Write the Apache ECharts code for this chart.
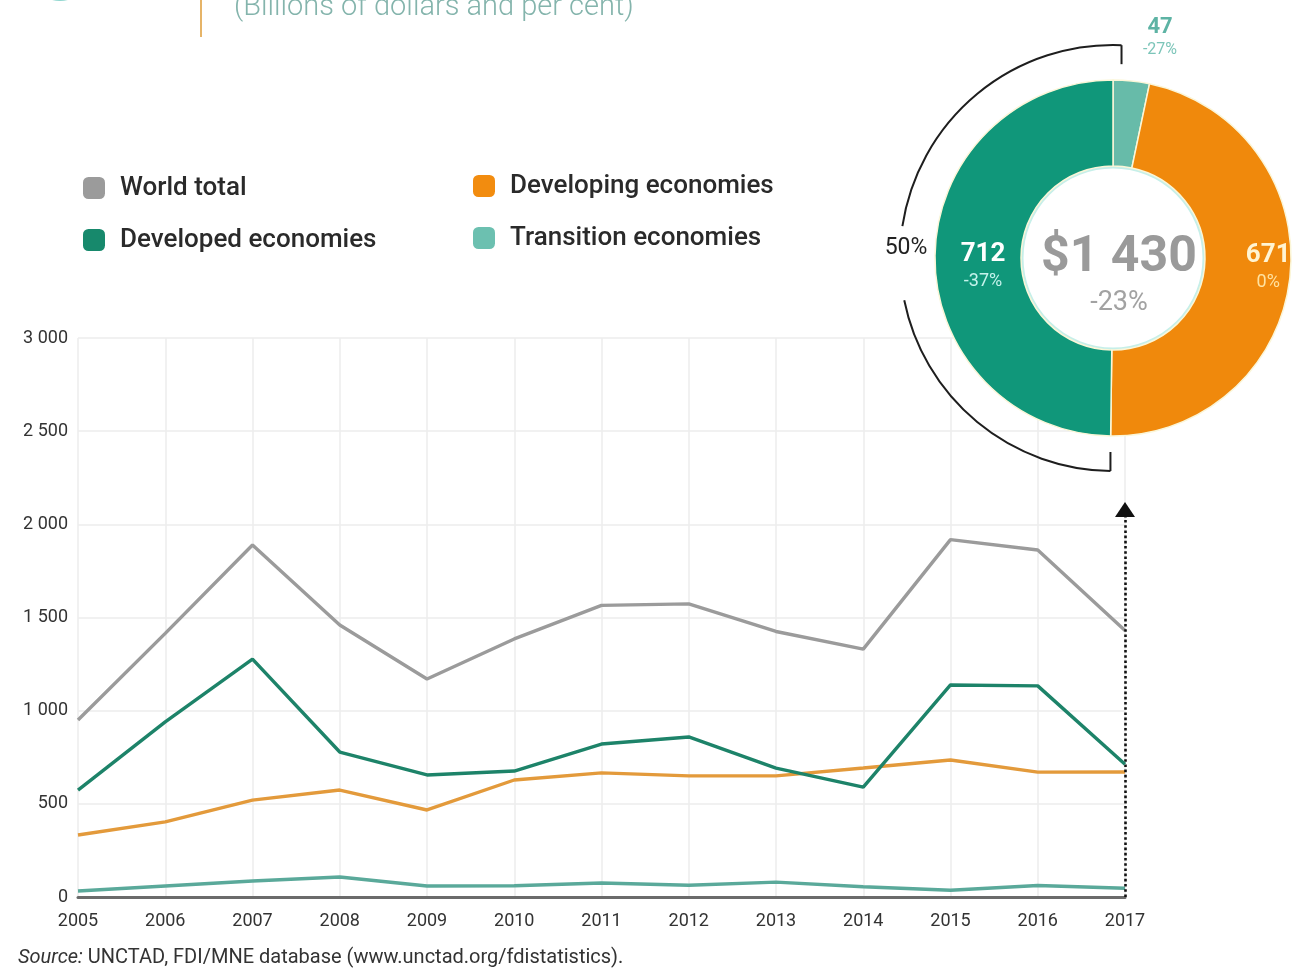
<!DOCTYPE html>
<html>
<head>
<meta charset="utf-8">
<title>FDI inflows, 2005-2017</title>
<script src="https://cdn.jsdelivr.net/npm/echarts@6/dist/echarts.min.js"></script>
<style>
  html, body { margin: 0; padding: 0; background: #ffffff; }
  #chart { width: 1306px; height: 975px; }
</style>
</head>
<body>
<div id="chart"></div>
<script>
// FDI inflows by group of economies (billions of dollars)
const years = ['2005', '2006', '2007', '2008', '2009', '2010', '2011', '2012', '2013', '2014', '2015', '2016', '2017'];
const worldTotal = [950, 1415, 1889, 1460, 1170, 1385, 1565, 1573, 1425, 1330, 1918, 1862, 1430];
const developed  = [574, 940, 1277, 778, 655, 676, 821, 859, 692, 590, 1138, 1133, 712];
const developing = [333, 403, 520, 574, 467, 628, 666, 650, 650, 692, 735, 670, 671];
const transition = [32, 59, 86, 107, 59, 60, 75, 63, 80, 55, 36, 62, 47];
const yTicks = [0, 500, 1000, 1500, 2000, 2500, 3000];

// 2017 breakdown and growth rates
const shareNames   = ['Transition economies', 'Developing economies', 'Developed economies'];
const shareChange  = ['-27%', '0%', '-37%'];
const totalChange  = '-23%';

const last = years.length - 1;
const shareValues = [transition[last], developing[last], developed[last]];
const total2017 = worldTotal[last];

const C = {
  world: '#9b9b9b',
  developedLine: '#1d8369',
  developingLine: '#e39a3b',
  transitionLine: '#5aa99a',
  developedPie: '#10977a',
  developingPie: '#f0890c',
  transitionPie: '#67bba9',
  legendDeveloped: '#17896c',
  legendDeveloping: '#f28c0f',
  legendTransition: '#6cc0b0',
  grid: '#ededed',
  text: '#333333'
};

const FONT = 'Roboto, "Liberation Sans", sans-serif';
const PIE_CX = 1113, PIE_CY = 258, PIE_R0 = 92, PIE_R = 178;
const BRACKET_R = 213;

const spaced = v => String(v).replace(/\B(?=(\d{3})+(?!\d))/g, ' ');

const chart = echarts.init(document.getElementById('chart'), null, { renderer: 'canvas' });

const lineSeries = (name, data, color, z) => ({
  name, type: 'line', data, z,
  symbol: 'none',
  lineStyle: { color, width: 3.4 },
  itemStyle: { color },
  emphasis: { disabled: true }
});

const developedShare = Math.round(100 * shareValues[2] / total2017) + '%';

// bracket around the developed-economies half of the ring
const topA = -Math.PI / 2 + 0.04;
const botA = Math.PI / 2 + 0.012;
const gapA = 0.15;

const legendText = { fontSize: 26, fontWeight: 500, color: '#2a2a2a', fontFamily: FONT, padding: [0, 0, 0, 10] };

const option = {
  animation: false,
  backgroundColor: '#ffffff',
  textStyle: { fontFamily: FONT },
  grid: { left: 78, right: 181, top: 338, bottom: 78, containLabel: false },
  legend: [
    {
      left: 78, top: 170, orient: 'vertical', itemGap: 26,
      icon: 'roundRect', itemWidth: 22, itemHeight: 22, itemStyle: { borderWidth: 0 },
      textStyle: legendText,
      selectedMode: false,
      data: [
        { name: 'World total', itemStyle: { color: C.world } },
        { name: 'Developed economies', itemStyle: { color: C.legendDeveloped } }
      ]
    },
    {
      left: 468, top: 168, orient: 'vertical', itemGap: 26,
      icon: 'roundRect', itemWidth: 22, itemHeight: 22, itemStyle: { borderWidth: 0 },
      textStyle: legendText,
      selectedMode: false,
      data: [
        { name: 'Developing economies', itemStyle: { color: C.legendDeveloping } },
        { name: 'Transition economies', itemStyle: { color: C.legendTransition } }
      ]
    }
  ],
  xAxis: {
    type: 'category',
    data: years,
    boundaryGap: false,
    axisLine: { lineStyle: { color: '#6b6b6b', width: 3 } },
    axisTick: { show: false },
    axisLabel: { fontSize: 18, color: C.text, margin: 15, fontFamily: FONT },
    splitLine: { show: true, lineStyle: { color: C.grid, width: 1.5 } }
  },
  yAxis: {
    type: 'value',
    min: yTicks[0],
    max: yTicks[yTicks.length - 1],
    interval: yTicks[1] - yTicks[0],
    axisLine: { show: false },
    axisTick: { show: false },
    axisLabel: { fontSize: 18, color: C.text, margin: 10, fontFamily: FONT, formatter: v => spaced(v) },
    splitLine: { lineStyle: { color: C.grid, width: 1.5 } }
  },
  series: [
    Object.assign(lineSeries('World total', worldTotal, C.world, 3), {
      markLine: {
        silent: true,
        symbol: ['none', 'triangle'],
        symbolSize: [20, 15],
        label: { show: false },
        lineStyle: { type: 'dotted', color: '#111111', width: 2.6 },
        data: [[{ coord: [years[last], 0] }, { coord: [years[last], 2080] }]]
      }
    }),
    lineSeries('Developing economies', developing, C.developingLine, 4),
    lineSeries('Transition economies', transition, C.transitionLine, 4),
    lineSeries('Developed economies', developed, C.developedLine, 5),
    {
      // white centre of the ring
      type: 'pie',
      silent: true,
      z: 6,
      center: [PIE_CX, PIE_CY],
      radius: [0, PIE_R0 - 1],
      data: [{ value: total2017, name: 'total' }],
      itemStyle: { color: '#ffffff', borderColor: '#c6efe9', borderWidth: 3 },
      labelLine: { show: false },
      label: {
        show: true,
        position: 'center',
        padding: [36, 0, 0, 12],
        formatter: () => `{a|$${spaced(total2017)}}\n{b|${totalChange}}`,
        rich: {
          a: { fontSize: 50, fontWeight: 'bold', color: '#9a9a9a', lineHeight: 54, fontFamily: FONT },
          b: { fontSize: 27, color: '#a2a2a2', lineHeight: 36, fontFamily: FONT }
        }
      },
      emphasis: { disabled: true },
      tooltip: { show: false }
    },
    {
      type: 'pie',
      z: 7,
      silent: true,
      center: [PIE_CX, PIE_CY],
      radius: [PIE_R0, PIE_R],
      startAngle: 90,
      clockwise: true,
      avoidLabelOverlap: false,
      itemStyle: { borderColor: '#fbf6d8', borderWidth: 1.5 },
      labelLine: { show: false },
      emphasis: { disabled: true },
      data: [
        {
          name: shareNames[0], value: shareValues[0], itemStyle: { color: C.transitionPie },
          label: {
            show: true, position: 'inside',
            formatter: p => `{v|${p.value}}\n{p|${shareChange[p.dataIndex]}}`,
            rich: {
              v: { fontSize: 22, fontWeight: 'bold', color: '#5db3a4', lineHeight: 26, align: 'center', fontFamily: FONT },
              p: { fontSize: 16, color: '#7cc5b9', lineHeight: 20, align: 'center', fontFamily: FONT }
            }
          }
        },
        {
          name: shareNames[1], value: shareValues[1], itemStyle: { color: C.developingPie },
          label: {
            show: true, position: 'inside',
            formatter: p => `{v|${p.value}}\n{p|${shareChange[p.dataIndex]}}`,
            rich: {
              v: { fontSize: 26, fontWeight: 'bold', color: '#fff4d2', lineHeight: 30, align: 'center', fontFamily: FONT },
              p: { fontSize: 18, color: '#ffe2a0', lineHeight: 24, align: 'center', fontFamily: FONT }
            }
          }
        },
        {
          name: shareNames[2], value: shareValues[2], itemStyle: { color: C.developedPie },
          label: {
            show: true, position: 'inside',
            formatter: p => `{v|${p.value}}\n{p|${shareChange[p.dataIndex]}}`,
            rich: {
              v: { fontSize: 26, fontWeight: 'bold', color: '#ffffff', lineHeight: 30, align: 'center', fontFamily: FONT },
              p: { fontSize: 18, color: '#c6f3ec', lineHeight: 24, align: 'center', fontFamily: FONT }
            }
          }
        }
      ],
      labelLayout: params => {
        if (params.dataIndex === 0) return { x: PIE_CX + 47, y: 37, align: 'center', verticalAlign: 'middle' };
        if (params.dataIndex === 1) return { dx: 18, dy: -6 };
        return { dx: 8, dy: 9 };
      }
    }
  ],
  graphic: [
    // header fragments along the top edge
    { type: 'circle', shape: { cx: 60, cy: -30, r: 31 }, style: { fill: '#8fd6cf' }, silent: true },
    { type: 'line', shape: { x1: 201, y1: 0, x2: 201, y2: 37 }, style: { stroke: '#e6b468', lineWidth: 2 }, silent: true },
    {
      type: 'text', left: 234, top: -7, silent: true,
      style: { text: '(Billions of dollars and per cent)', fontSize: 29, fontWeight: 300, fill: '#84b4ac', fontFamily: FONT }
    },
    // bracket marking the developed-economies share
    {
      type: 'arc', silent: true, z: 10,
      shape: { cx: PIE_CX, cy: PIE_CY, r: BRACKET_R, startAngle: topA, endAngle: -Math.PI + gapA, clockwise: false },
      style: { stroke: '#1e1e1e', lineWidth: 2, fill: null }
    },
    {
      type: 'arc', silent: true, z: 10,
      shape: { cx: PIE_CX, cy: PIE_CY, r: BRACKET_R, startAngle: botA, endAngle: Math.PI - gapA - 0.05, clockwise: true },
      style: { stroke: '#1e1e1e', lineWidth: 2, fill: null }
    },
    {
      type: 'line', silent: true, z: 10,
      shape: {
        x1: PIE_CX + BRACKET_R * Math.cos(topA), y1: PIE_CY + BRACKET_R * Math.sin(topA),
        x2: PIE_CX + BRACKET_R * Math.cos(topA), y2: PIE_CY + BRACKET_R * Math.sin(topA) + 19
      },
      style: { stroke: '#1e1e1e', lineWidth: 2 }
    },
    {
      type: 'line', silent: true, z: 10,
      shape: {
        x1: PIE_CX + BRACKET_R * Math.cos(botA), y1: PIE_CY + BRACKET_R * Math.sin(botA),
        x2: PIE_CX + BRACKET_R * Math.cos(botA), y2: PIE_CY + BRACKET_R * Math.sin(botA) - 19
      },
      style: { stroke: '#1e1e1e', lineWidth: 2 }
    },
    {
      type: 'text', silent: true, z: 10,
      x: PIE_CX - BRACKET_R + 6, y: PIE_CY - 10,
      style: { text: developedShare, fontSize: 23, fill: '#222222', align: 'center', verticalAlign: 'middle', fontFamily: FONT }
    },
    // source note
    {
      type: 'text', left: 18, top: 948, silent: true,
      style: {
        text: '{i|Source:} UNCTAD, FDI/MNE database (www.unctad.org/fdistatistics).',
        fontSize: 20, fill: '#333333', fontFamily: FONT,
        rich: { i: { fontStyle: 'italic', fontSize: 20, fill: '#333333', fontFamily: FONT } }
      }
    }
  ]
};

chart.setOption(option);
</script>
</body>
</html>
